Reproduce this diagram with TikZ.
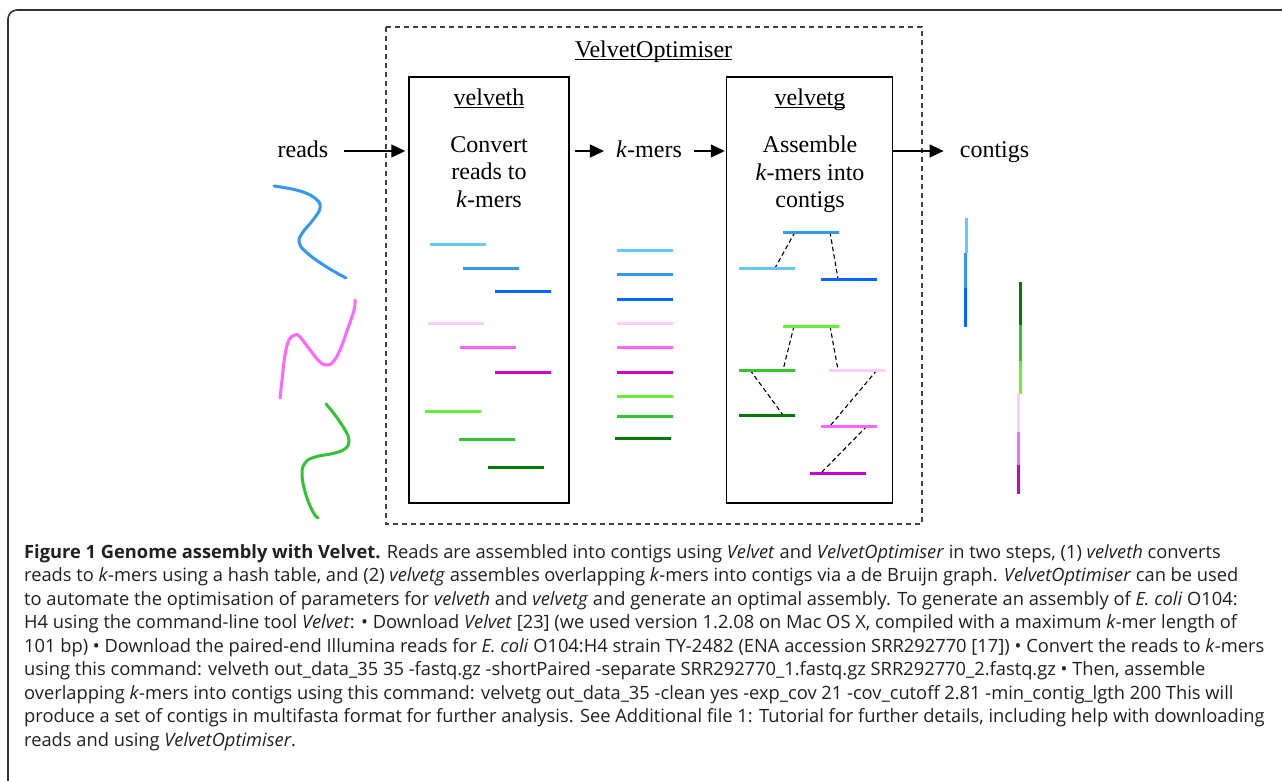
\documentclass[tikz,border=0pt]{standalone}
\usepackage{fontspec}
\setmainfont{Liberation Serif}
\newfontfamily\capfont{Open Sans}
\usetikzlibrary{arrows.meta}
\definecolor{cLB}{HTML}{66C8FF}
\definecolor{cMB}{HTML}{3399EE}
\definecolor{cB}{HTML}{0066FF}
\definecolor{cLP}{HTML}{FFCCFF}
\definecolor{cP}{HTML}{FF66FF}
\definecolor{cM}{HTML}{CC00CC}
\definecolor{cLG}{HTML}{66F033}
\definecolor{cG}{HTML}{33C433}
\definecolor{cDG}{HTML}{007A00}
\definecolor{capc}{HTML}{231F20}
\newcommand\myul[1]{\setbox0\hbox{#1}\rlap{\rule[-2.8pt]{\wd0}{1pt}}\box0}
\begin{document}
\begin{tikzpicture}[x=1pt,y=-1pt,
  seg/.style={line width=3pt},
  curve/.style={line width=3pt, line cap=round},
  conn/.style={line width=1.1pt, dash pattern=on 4.5pt off 3pt},
  arr/.style={line width=1.3pt,-{Triangle[length=14pt,width=13pt]}},
  lab/.style={font=\fontsize{24}{27.5}\selectfont, inner sep=0pt},
  onel/.style={lab, text height=12pt, text depth=0pt},
  body/.style={lab, align=center, anchor=north},
  box/.style={draw, line width=1.5pt, minimum height=426pt, inner sep=0pt},
  capline/.style={font=\capfont\fontsize{18.3}{23.5}\selectfont, text=capc, inner sep=0pt, anchor=base west}
]
\useasboundingbox (0,0) rectangle (1282,780);
\fill[white] (0,0) rectangle (1282,780);
\draw[line width=1.6pt, black!80, rounded corners=9pt] (8,800) -- (8,10) -- (1300,10);
\draw[black!75, line width=1.4pt, dash pattern=on 5pt off 4pt] (386,27) rectangle (922,524);
\node[lab, anchor=base] (vo) at (653.5,57) {\myul{VelvetOptimiser}};
% boxes
\node[box, minimum width=160pt] (vh) at (489,290) {};
\node[box, minimum width=166pt] (vg) at (809.5,290) {};
\node[lab, anchor=base] (vht) at (489,105) {\myul{velveth}};
\node[lab, anchor=base] (vgt) at (810,105) {\myul{velvetg}};
\node[body] (vhb) at (489,136) {Convert\\reads to\\\textit{k}-mers};
\node[body] (vgb) at (810,136) {Assemble\\\textit{k}-mers into\\contigs};
% labels
\node[onel] (reads) at (303,151) {reads};
\node[onel] (kmers) at (649,151) {\textit{k}-mers};
\node[onel] (contigs) at (994.5,151) {contigs};
% arrows
\draw[arr, shorten <=15pt, shorten >=3pt] (reads.east) -- (reads.east -| vh.west);
\draw[arr, shorten <=5.5pt, shorten >=12pt] (vh.east |- kmers.west) -- (kmers.west);
\draw[arr, shorten <=12pt, shorten >=1pt] (kmers.east) -- (kmers.east -| vg.west);
\draw[arr, shorten >=16pt] (vg.east |- contigs.west) -- (contigs.west);
% reads curves
\draw[curve, cMB] plot[smooth, tension=0.7] coordinates {(274,186) (300,191) (316,199) (320,208) (313,220) (303,232) (299,242) (306,252) (325,266) (346,278)};
\draw[curve, cP] plot[smooth, tension=0.7] coordinates {(355,300) (354,310) (348,328) (340,350) (333,362) (327,365) (320,362) (310,350) (300,337) (295,335) (289,340) (285,355) (282,380) (280,398)};
\draw[curve, cG] plot[smooth, tension=0.7] coordinates {(326,404) (335,415) (345,430) (349,440) (346,448) (335,453) (315,457) (305,463) (302,475) (306,495) (313,512) (318,518)};
% velveth segments
\draw[seg, cLB] (430,244) -- (486,244);
\draw[seg, cMB] (463,268) -- (519,268);
\draw[seg, cB] (495,291) -- (551,291);
\draw[seg, cLP] (428,323) -- (484,323);
\draw[seg, cP] (460,347) -- (516,347);
\draw[seg, cM] (495,372) -- (551,372);
\draw[seg, cLG] (425,411) -- (481,411);
\draw[seg, cG] (459,439) -- (515,439);
\draw[seg, cDG] (488,467) -- (544,467);
% k-mers column
\draw[seg, cLB] (617,250) -- (673,250);
\draw[seg, cMB] (617,274) -- (673,274);
\draw[seg, cB] (617,299) -- (673,299);
\draw[seg, cLP] (617,323) -- (673,323);
\draw[seg, cP] (617,347) -- (673,347);
\draw[seg, cM] (617,372) -- (673,372);
\draw[seg, cLG] (617,396) -- (673,396);
\draw[seg, cG] (617,416) -- (673,416);
\draw[seg, cDG] (615,438) -- (671,438);
% velvetg graph
\draw[conn] (795,232) -- (775,268);
\draw[conn] (830,232) -- (838,279);
\draw[conn] (794,326) -- (783,370);
\draw[conn] (830,326) -- (838,370);
\draw[conn] (750,370) -- (783,415);
\draw[conn] (877,370) -- (830,426);
\draw[conn] (867,426) -- (821,473);
\draw[seg, cMB] (783,232) -- (839,232);
\draw[seg, cLB] (739,268) -- (795,268);
\draw[seg, cB] (821,279) -- (877,279);
\draw[seg, cLG] (783,326) -- (839,326);
\draw[seg, cG] (739,370) -- (795,370);
\draw[seg, cLP] (829,370) -- (885,370);
\draw[seg, cDG] (739,415) -- (795,415);
\draw[seg, cP] (821,426) -- (877,426);
\draw[seg, cM] (810,473) -- (866,473);
% contigs
\draw[seg, cLB] (966.3,218) -- (966.3,253);
\draw[seg, cMB] (965.7,253) -- (965.7,288);
\draw[seg, cB] (965.3,288) -- (965.3,327);
\draw[seg, cDG] (1020.3,282) -- (1020.3,325);
\draw[seg, cG] (1020.3,325) -- (1020.3,361);
\draw[seg, cLG] (1020.3,361) -- (1020.3,394);
\draw[seg, cLP] (1018.3,393) -- (1018.3,432);
\draw[seg, cP] (1018.3,432) -- (1018.3,465);
\draw[seg, cM] (1018.3,465) -- (1018.3,494);
% caption
\node[capline] (cap1) at (24,558) {\textbf{Figure 1 Genome assembly with Velvet.} Reads are assembled into contigs using \textit{Velvet} and \textit{VelvetOptimiser} in two steps, (1) \textit{velveth} converts};
\node[capline] (cap2) at (24,581.5) {reads to \textit{k}-mers using a hash table, and (2) \textit{velvetg} assembles overlapping \textit{k}-mers into contigs via a de Bruijn graph. \textit{VelvetOptimiser} can be used};
\node[capline] (cap3) at (24,605) {to automate the optimisation of parameters for \textit{velveth} and \textit{velvetg} and generate an optimal assembly. To generate an assembly of \textit{E. coli} O104:};
\node[capline] (cap4) at (24,628.5) {H4 using the command-line tool \textit{Velvet}: • Download \textit{Velvet} [23] (we used version 1.2.08 on Mac OS X, compiled with a maximum \textit{k}-mer length of};
\node[capline] (cap5) at (24,652) {101 bp) • Download the paired-end Illumina reads for \textit{E. coli} O104:H4 strain TY-2482 (ENA accession SRR292770 [17]) • Convert the reads to \textit{k}-mers};
\node[capline] (cap6) at (24,675.5) {using this command: velveth out\_data\_35 35 -fastq.gz -shortPaired -separate SRR292770\_1.fastq.gz SRR292770\_2.fastq.gz • Then, assemble};
\node[capline] (cap7) at (24,699) {overlapping \textit{k}-mers into contigs using this command: velvetg out\_data\_35 -clean yes -exp\_cov 21 -cov\_cutoff 2.81 -min\_contig\_lgth 200 This will};
\node[capline] (cap8) at (24,722.5) {produce a set of contigs in multifasta format for further analysis. See Additional file 1: Tutorial for further details, including help with downloading};
\node[capline] (cap9) at (24,746) {reads and using \textit{VelvetOptimiser}.};
\end{tikzpicture}
\end{document}
